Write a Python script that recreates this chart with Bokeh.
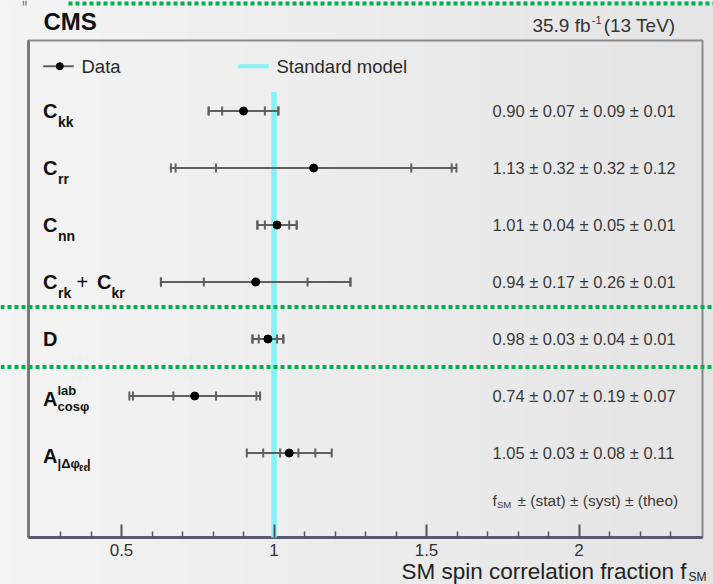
from bokeh.plotting import figure
from bokeh.models import Range1d, FixedTicker
from bokeh.core.properties import value
from bokeh.embed import file_html
from bokeh.resources import INLINE
import numpy as np
import math

# --- measured SM spin-correlation fractions -------------------------------
observables = ["C_kk", "C_rr", "C_nn", "C_rk + C_kr", "D", "A_cosphi_lab", "A_dphi_ll"]
f_sm = [0.90, 1.13, 1.01, 0.94, 0.98, 0.74, 1.05]
stat = [0.07, 0.32, 0.04, 0.17, 0.03, 0.07, 0.03]
syst = [0.09, 0.32, 0.05, 0.26, 0.04, 0.19, 0.08]
theo = [0.01, 0.12, 0.01, 0.01, 0.01, 0.07, 0.11]
sm_expectation = 1.0

x_ticks = [0.5, 1.0, 1.5, 2.0]
x_tick_labels = ["0.5", "1", "1.5", "2"]
x_minor_ticks = [0.3, 0.4, 0.6, 0.7, 0.8, 0.9, 1.1, 1.2, 1.3, 1.4,
                 1.6, 1.7, 1.8, 1.9, 2.1, 2.2, 2.3]

FONT = "Liberation Sans"
BAR = "#5f5f5f"
SM_COLOR = "#86f2f6"
GUIDE = "#00b050"

W, H = 713, 584
# canvas layout: 305 px per unit of f_SM (x = 1 at 273.5 px), 57 px per row (row 0 at 110.5 px)
PX_X, X_ONE = 305.0, 273.5
PX_ROW, ROW0 = 57.0, 110.5


def X(px):
    return 1 + (px - X_ONE) / PX_X


def Y(py):
    return (py - ROW0) / PX_ROW


def dx(px):
    return px / PX_X


def dy(py):
    return py / PX_ROW


FRAME_L, FRAME_R, FRAME_T, FRAME_B = 28, 702, 40, 537

p = figure(width=W, height=H, output_backend="svg", toolbar_location=None,
           x_range=Range1d(X(0), X(W)), y_range=Range1d(Y(H), Y(0)),
           y_axis_location=None, min_border=0, min_border_left=0, min_border_right=0,
           min_border_top=0, min_border_bottom=0, title=None)
p.outline_line_color = None
p.background_fill_color = "#ececec"
p.border_fill_color = "#ececec"
p.xgrid.visible = False
p.ygrid.visible = False

# soft horizontal shading of the page background
shade = np.linspace(0xf4, 0xe5, 64).astype(np.uint32)
img = ((255 << 24) | (shade << 16) | (shade << 8) | shade).astype(np.uint32)
p.image_rgba(image=[img.reshape(1, -1)], x=X(0), y=Y(0), dw=X(W) - X(0), dh=Y(H) - Y(0))

# plot frame
p.quad(left=[X(FRAME_L)], right=[X(FRAME_R)], top=[Y(FRAME_T)], bottom=[Y(FRAME_B)],
       fill_alpha=0, line_color="#8a8a8a", line_width=2)
p.segment(x0=[X(FRAME_L)], y0=[Y(FRAME_T)], x1=[X(FRAME_L)], y1=[Y(FRAME_B)],
          line_color="#7a7a7a", line_width=3)

ax = p.xaxis[0]
ax.fixed_location = Y(FRAME_B)
ax.ticker = FixedTicker(ticks=x_ticks, minor_ticks=x_minor_ticks)
ax.major_label_overrides = {t: l for t, l in zip(x_ticks, x_tick_labels)}
ax.major_tick_in = 13
ax.major_tick_out = 0
ax.minor_tick_in = 6
ax.minor_tick_out = 0
ax.major_tick_line_color = "#555555"
ax.minor_tick_line_color = "#555555"
ax.major_tick_line_width = 2
ax.minor_tick_line_width = 1.5
ax.axis_line_color = None
ax.major_label_text_font = FONT
ax.major_label_text_font_size = "17px"
ax.major_label_text_color = "#333333"
ax.major_label_standoff = 6
p.segment(x0=[X(FRAME_L)], y0=[Y(FRAME_B)], x1=[X(FRAME_R)], y1=[Y(FRAME_B)],
          line_color="#575a70", line_width=3)

rows = list(range(len(f_sm)))
stat_syst = [math.hypot(s, y) for s, y in zip(stat, syst)]
total = [math.sqrt(s * s + y * y + t * t) for s, y, t in zip(stat, syst, theo)]

# Standard-model reference line
p.segment(x0=[sm_expectation], y0=[Y(91.5)], x1=[sm_expectation], y1=[Y(FRAME_B)],
          line_color=SM_COLOR, line_width=5.5)

# error bars: total range, with end caps for stat, stat+syst and total
p.segment(x0=[v - e for v, e in zip(f_sm, total)], y0=rows,
          x1=[v + e for v, e in zip(f_sm, total)], y1=rows,
          line_color=BAR, line_width=2)
cap_x, cap_y = [], []
for v, r, errs in zip(f_sm, rows, zip(stat, stat_syst, total)):
    for e in errs:
        cap_x += [v - e, v + e]
        cap_y += [r, r]
cap_h = dy(4.5)
p.segment(x0=cap_x, y0=[y - cap_h for y in cap_y], x1=cap_x, y1=[y + cap_h for y in cap_y],
          line_color=BAR, line_width=2)
p.scatter(x=f_sm, y=rows, size=8, color="black")


def txt(x, y, s, size, style="normal", align="left", color="#222222"):
    p.text(x=[x], y=[y], text=[s], text_font=value(FONT), text_font_size=value(size),
           text_font_style=style, text_align=align, text_baseline="middle", text_color=color)


# numeric results next to each row
value_x = X(492)
value_text = [f"{v:.2f} ± {a:.2f} ± {b:.2f} ± {c:.2f}" for v, a, b, c in zip(f_sm, stat, syst, theo)]
p.text(x=[value_x] * len(rows), y=rows, text=value_text, text_font=value(FONT),
       text_font_size=value("16.5px"), text_color="#3a3a3a", text_baseline="middle")

# row labels composed of main symbol plus sub/superscripts
label_x = X(42.5)
label_pieces = [
    [("C", 0, 0, 20), ("kk", 15, 11, 14)],
    [("C", 0, 0, 20), ("rr", 15, 11, 14)],
    [("C", 0, 0, 20), ("nn", 15, 11, 14)],
    [("C", 0, 0, 20), ("rk", 15, 11, 14), ("+", 33.5, 0, 20), ("C", 54, 0, 20), ("kr", 68.5, 11, 14)],
    [("D", 0, 0, 20)],
    [("A", 0, 3, 20), ("lab", 14.5, -6, 13), ("cosφ", 14.5, 10, 13)],
    [("A", 0, 3, 20), ("|Δφ", 14.5, 10, 13), ("ℓℓ", 36, 15, 9), ("|", 44, 10, 13)],
]
for r, pieces in zip(rows, label_pieces):
    for s, ox, oy, size in pieces:
        txt(label_x + dx(ox), r + dy(oy), s, f"{size}px",
            style="normal" if s == "+" else "bold", color="#111111")

# legend
leg_y = Y(65.7)
p.segment(x0=[X(42.7)], y0=[leg_y], x1=[X(73.3)], y1=[leg_y], line_color=BAR, line_width=2)
p.scatter(x=[X(59.3)], y=[leg_y], size=7, color="black")
txt(X(81), leg_y, "Data", "18.5px", color="#2a2a2a")
p.segment(x0=[X(237.7)], y0=[leg_y], x1=[X(268.3)], y1=[leg_y], line_color=SM_COLOR, line_width=4)
txt(X(276), leg_y, "Standard model", "18.5px", color="#2a2a2a")

# footnote describing the numbers
foot_y = Y(500)
txt(value_x, foot_y, "f", "15.5px", color="#3a3a3a")
txt(value_x + dx(4.5), foot_y + dy(4), "SM", "9.5px", color="#3a3a3a")
txt(value_x + dx(25), foot_y, "± (stat) ± (syst) ± (theo)", "15.5px", color="#3a3a3a")

# header
txt(X(43), Y(21), "CMS", "24px", style="bold", color="#111111")
txt(X(675), Y(25), "(13 TeV)", "19px", align="right", color="#333333")
txt(X(601), Y(19), "-1", "11px", align="right", color="#333333")
txt(X(590), Y(25), "35.9 fb", "19px", align="right", color="#333333")
p.segment(x0=[X(23), X(25.5)], y0=[Y(0), Y(0)], x1=[X(23), X(25.5)], y1=[Y(5), Y(5)],
          line_color="#888888", line_width=1.5)

# x-axis title
txt(X(686), Y(571), "SM spin correlation fraction f", "22.5px", align="right", color="#222222")
txt(X(688), Y(576.5), "SM", "12px", color="#222222")

# dotted guide lines
for xa, xb, ypx in [(68, W, 3), (0, W, 306.5), (0, W, 366.5)]:
    p.segment(x0=[X(xa)], y0=[Y(ypx)], x1=[X(xb)], y1=[Y(ypx)],
              line_color=GUIDE, line_width=4, line_dash="4 3")

open("out.html", "w").write(file_html(p, INLINE))
